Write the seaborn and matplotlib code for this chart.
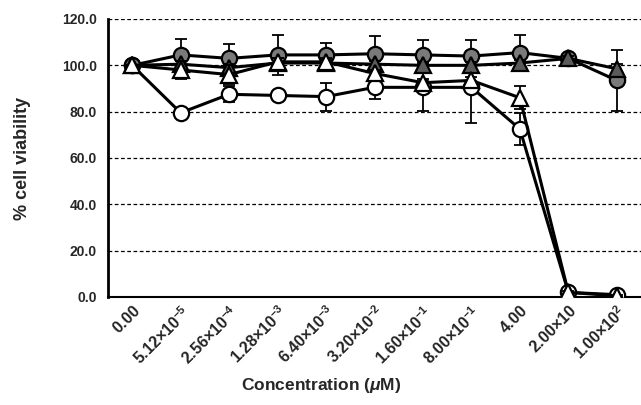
import numpy as np
import pandas as pd
import seaborn as sns
import matplotlib
matplotlib.use("Agg")
import matplotlib.pyplot as plt
import matplotlib.transforms as mtransforms

# Concentration labels (uM), one per x position
conc_labels = [
    "0.00", r"5.12{\times}10^{-5}", r"2.56{\times}10^{-4}", r"1.28{\times}10^{-3}",
    r"6.40{\times}10^{-3}", r"3.20{\times}10^{-2}", r"1.60{\times}10^{-1}",
    r"8.00{\times}10^{-1}", "4.00", r"2.00{\times}10", r"1.00{\times}10^{2}",
]

# % cell viability for the four series
gray_circle = [100, 104.5, 103, 104.5, 104.5, 105, 104.5, 104, 105.5, 103, 93.5]
gray_circle_err = [0, 7, 6, 8.5, 5, 7.5, 6.5, 7, 7.5, 1, 13]
dark_triangle = [100, 100.5, 99, 101, 101, 100.5, 100, 100, 101, 103, 98.5]
dark_triangle_err = [0, 1.5, 1.5, 2, 1.5, 1.5, 1.5, 1.5, 1.5, 1, 2]
open_circle = [100, 79.5, 87.5, 87, 86.5, 90.5, 90.5, 90.5, 72.5, 2, 1]
open_circle_err = [0, 1.5, 3.5, 1.5, 6, 5, 10, 15.5, 7, 0.5, 0.5]
open_triangle = [100, 98, 96, 101.5, 101.5, 96.5, 92.5, 93.5, 86, 2, 0.5]
open_triangle_err = [0, 4, 4, 1.5, 1.5, 1.5, 1.5, 1.5, 5, 0.5, 0.5]

sns.set_style("white")
plt.rcParams["font.family"] = ["Liberation Sans", "DejaVu Sans"]
plt.rcParams["font.weight"] = "bold"
plt.rcParams["mathtext.fontset"] = "custom"
plt.rcParams["mathtext.rm"] = "Liberation Sans:bold"
plt.rcParams["mathtext.it"] = "Liberation Sans:italic:bold"
plt.rcParams["mathtext.bf"] = "Liberation Sans:bold"
plt.rcParams["mathtext.default"] = "rm"

pos = np.arange(len(conc_labels))

fig = plt.figure(figsize=(6.41, 4.05), dpi=100)
ax = fig.add_axes([108 / 641, 1 - 297 / 405, 1 - 108 / 641, (297 - 19) / 405])

series = [
    (open_circle, open_circle_err, "o", "white"),
    (gray_circle, gray_circle_err, "o", "#7a7a7a"),
    (dark_triangle, dark_triangle_err, "^", "#5a5a5a"),
    (open_triangle, open_triangle_err, "^", "white"),
]

for i, (vals, err, mk, fc) in enumerate(series):
    z = 3 + i
    ax.errorbar(pos, vals, yerr=err, fmt="none", ecolor="black",
                elinewidth=1.3, capsize=4.5, capthick=1.3, zorder=z)
    df = pd.DataFrame({"x": pos, "y": vals})
    sns.lineplot(data=df, x="x", y="y", ax=ax, color="black", linewidth=2.2,
                 marker=mk, markersize=11, markerfacecolor=fc,
                 markeredgecolor="black", markeredgewidth=1.6, zorder=z)

ax.set_xlim(-0.5, len(conc_labels) - 0.5)
ax.set_ylim(0, 120)
ax.set_yticks(np.arange(0, 121, 20))
ax.set_yticklabels([f"{v:.1f}" for v in np.arange(0, 121, 20)], fontsize=10, fontweight="bold")

ax.set_xticks(pos)
ax.set_xticklabels([f"${lab}$" for lab in conc_labels], rotation=45, ha="right",
                   rotation_mode="anchor", fontsize=11.5)
offset = mtransforms.ScaledTranslation(-4 / 100, 4 / 100, fig.dpi_scale_trans)
for lab in ax.get_xticklabels():
    lab.set_transform(lab.get_transform() + offset)
ax.set_xticks(np.arange(-0.5, len(conc_labels), 1), minor=True)
ax.tick_params(axis="x", which="major", length=0, pad=4)
ax.tick_params(axis="x", which="minor", length=4, width=1.2, direction="out", color="black")
ax.tick_params(axis="y", length=4, width=1.2, direction="out", color="black", pad=4)

for v in np.arange(20, 121, 20):
    ax.axhline(v, color="black", linestyle=(0, (3, 2)), linewidth=0.9, zorder=1)

sns.despine(ax=ax, top=True, right=True)
ax.spines["left"].set_linewidth(2)
ax.spines["bottom"].set_linewidth(1.5)
ax.spines["left"].set_color("black")
ax.spines["bottom"].set_color("black")

ax.set_ylabel("% cell viability", fontsize=13, fontweight="bold")
ax.yaxis.set_label_coords((31 - 108) / 533, 0.5)
ax.set_xlabel(r"Concentration ($\mathit{\mu}$M)", fontsize=12.5, fontweight="bold")
ax.xaxis.set_label_coords((321 - 108) / 533, -0.285)

fig.savefig("out.png", dpi=100)
